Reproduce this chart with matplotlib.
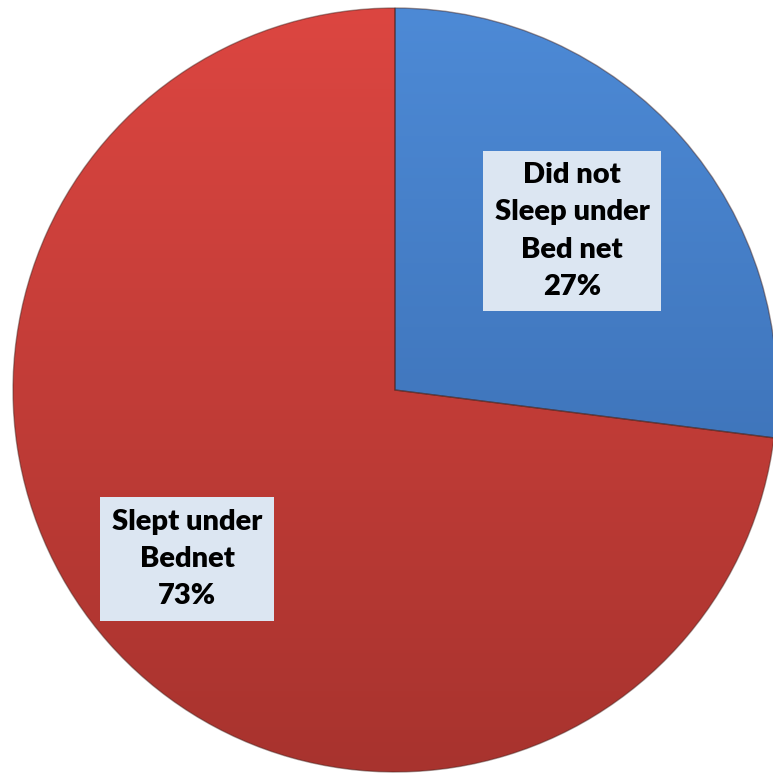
import numpy as np
import matplotlib
matplotlib.use('agg')
import matplotlib.pyplot as plt
from matplotlib.colors import LinearSegmentedColormap

labels = ['Did not\nSleep under\nBed net', 'Slept under\nBednet']
shares = [27, 73]
top_colors = ['#4d8ad6', '#dc4641']
bottom_colors = ['#3566a8', '#a8332e']
label_pos = [(572, 231), (187, 559)]

W = 773
fig = plt.figure(figsize=(W / 100, W / 100), dpi=100)
ax = fig.add_axes([0, 0, 1, 1])

cx, cy, r = 395, W - 390, 382
wedges, _ = ax.pie(shares, startangle=90, counterclock=False, radius=r,
                   center=(cx, cy), frame=True,
                   wedgeprops=dict(linewidth=1.0))
ax.set_xlim(0, W)
ax.set_ylim(0, W)
ax.set_aspect('equal')
ax.axis('off')

# vertical gradient fill clipped to each wedge
grad = np.linspace(1, 0, 256).reshape(-1, 1)
for w, c_top, c_bot in zip(wedges, top_colors, bottom_colors):
    w.set_facecolor('none')
    cmap = LinearSegmentedColormap.from_list('g', [c_bot, c_top])
    im = ax.imshow(grad, cmap=cmap, extent=(cx - r, cx + r, cy - r, cy + r),
                   aspect='auto', zorder=0.5, origin='upper')
    im.set_clip_path(w)
    w.set_zorder(1)
    w.set_edgecolor((0.25, 0.12, 0.1, 0.45))

for txt, share, (px, py) in zip(labels, shares, label_pos):
    ax.text(px, W - py, f'{txt}\n{share}%', ha='center', va='center',
            fontsize=21, fontweight='heavy', family='Lato', linespacing=1.53,
            color='black', zorder=3,
            bbox=dict(boxstyle='square,pad=0.4', facecolor='#dce6f2',
                      edgecolor='none'))

fig.savefig('out.png', dpi=100)
